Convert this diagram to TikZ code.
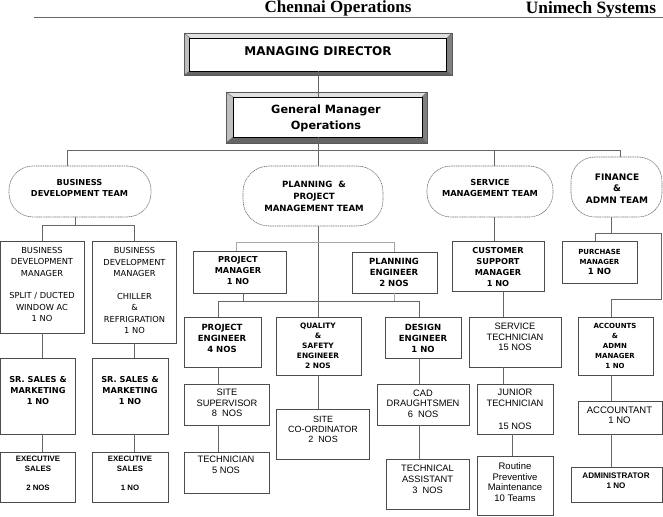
\documentclass[tikz,border=0pt]{standalone}
\usepackage{fontspec}
\setmainfont{DejaVu Sans}
\newfontfamily\arialf{Liberation Sans}
\newfontfamily\timesf{Liberation Serif}
\newcommand\myfs[2]{\fontsize{#1pt}{#2pt}\selectfont}
\tikzset{
  bx/.style={draw=black!70, line width=0.75pt, inner sep=0pt},
  tm/.style={draw=black!55, line width=0.6pt, dash pattern=on 1.2pt off 0.6pt, inner sep=0pt},
  conn/.style={draw=black!60, line width=0.75pt},
  connl/.style={draw=black!35, line width=0.75pt},
  tx/.style={align=center, inner sep=0pt, text=black},
  vb/.style={tx, font=\bfseries\myfs{8.2}{11}},
  vr/.style={tx, font=\myfs{8.3}{11.5}},
  ar/.style={tx, font=\arialf\myfs{9.3}{10.5}},
  arb/.style={tx, font=\arialf\bfseries\myfs{7.8}{9.7}},
  bevtop/.style={fill=black!12},
  bevleft/.style={fill=black!25},
  bevright/.style={fill=black!50},
  bevbot/.style={fill=black!60},
}
\begin{document}
\begin{tikzpicture}[x=1pt,y=-1pt]
\fill[white] (0,0) rectangle (663,516);
\useasboundingbox (0,0) rectangle (663,516);

% header
\node[anchor=base, font=\timesf\bfseries\myfs{17}{20}] (h1) at (338,13) {Chennai Operations};
\node[anchor=base, font=\timesf\bfseries\myfs{17.3}{20}] (h2) at (591,14) {Unimech Systems};
\coordinate (hl1) at (34,17);
\coordinate (hl2) at (663,17);
\draw[black!60, line width=0.9pt] (hl1) -- (hl2);

% Managing director bevel
\fill[bevtop] (184,33) -- (452,33) -- (447,38) -- (190,38) -- cycle;
\fill[bevleft] (184,33) -- (190,38) -- (190,71) -- (184,75) -- cycle;
\fill[bevright] (452,33) -- (452,75) -- (447,71) -- (447,38) -- cycle;
\fill[bevbot] (184,75) -- (452,75) -- (447,71) -- (190,71) -- cycle;
\draw[black!55, line width=0.5pt] (184,33) -- (190,38) (452,33) -- (447,38) (184,75) -- (190,71) (452,75) -- (447,71);
\draw[black!65, line width=0.6pt] (184,33) rectangle (452,75);
\node[draw=black, line width=0.9pt, fill=white, minimum width=257, minimum height=33, inner sep=0pt] (md) at (318,54.5) {};
\node[tx, font=\bfseries\myfs{12}{14}] (mdt) at (318,51.5) {MANAGING DIRECTOR};

% General manager bevel
\fill[bevtop] (226,92) -- (427,92) -- (422,97) -- (233,97) -- cycle;
\fill[bevleft] (226,92) -- (233,97) -- (233,137) -- (226,143) -- cycle;
\fill[bevright] (427,92) -- (427,143) -- (422,137) -- (422,97) -- cycle;
\fill[bevbot] (226,143) -- (427,143) -- (422,137) -- (233,137) -- cycle;
\draw[black!55, line width=0.5pt] (226,92) -- (233,97) (427,92) -- (422,97) (226,143) -- (233,137) (427,143) -- (422,137);
\draw[black!65, line width=0.6pt] (226,92) rectangle (427,143);
\node[draw=black, line width=0.9pt, fill=white, minimum width=189, minimum height=40, inner sep=0pt] (gm) at (327.5,117) {};
\node[tx, font=\bfseries\myfs{11.3}{16}] (gmt) at (326,118) {General Manager\\Operations};

% teams
\node[tm, rounded corners=24pt, minimum width=142, minimum height=51] (bdt) at (80,191.5) {};
\node[tm, rounded corners=26pt, minimum width=140, minimum height=60] (plt) at (313,196) {};
\node[tm, rounded corners=24pt, minimum width=126, minimum height=51] (svt) at (490,191.5) {};
\node[tm, rounded corners=24pt, minimum width=91, minimum height=60] (fit) at (616.5,187) {};
\node[tx, font=\bfseries\myfs{8.2}{11}] (bdtt) at (79.5,188) {BUSINESS\\DEVELOPMENT TEAM};
\node[tx, font=\bfseries\myfs{8.6}{12}] (pltt) at (314,196) {PLANNING\ \ \&\\PROJECT\\MANAGEMENT TEAM};
\node[tx, font=\bfseries\myfs{8.3}{10.5}] (svtt) at (490,188) {SERVICE\\MANAGEMENT TEAM};
\node[tx, font=\bfseries\myfs{9}{11.5}] (fitt) at (617,188.5) {FINANCE\\\&\\ADMN TEAM};

% boxes
\node[bx, minimum width=83.5, minimum height=92] (bdm1) at (42.25,287) {};
\node[bx, minimum width=84, minimum height=102] (bdm2) at (134,292) {};
\node[bx, minimum width=74.5, minimum height=76] (sr1) at (37.75,396) {};
\node[bx, minimum width=76, minimum height=76] (sr2) at (130,396) {};
\node[bx, minimum width=74.5, minimum height=50] (ex1) at (37.75,477) {};
\node[bx, minimum width=76, minimum height=50] (ex2) at (130,477) {};
\node[bx, minimum width=93, minimum height=42] (pm) at (239.5,272) {};
\node[bx, minimum width=85, minimum height=41] (ple) at (394.5,272.5) {};
\node[bx, minimum width=77, minimum height=50] (pe) at (222.5,342) {};
\node[bx, minimum width=85, minimum height=58] (qs) at (318.5,346) {};
\node[bx, minimum width=76, minimum height=41] (de) at (423,337.5) {};
\node[bx, minimum width=85, minimum height=41] (ss) at (226.5,404.5) {};
\node[bx, minimum width=85, minimum height=41] (tc) at (226.5,472.5) {};
\node[bx, minimum width=93, minimum height=50] (sc) at (322.5,434) {};
\node[bx, minimum width=92, minimum height=41] (cad) at (423,404.5) {};
\node[bx, minimum width=83, minimum height=50] (ta) at (427.5,484) {};
\node[bx, minimum width=92, minimum height=50] (csm) at (498,266) {};
\node[bx, minimum width=92, minimum height=50] (st) at (515,342) {};
\node[bx, minimum width=76, minimum height=50] (jt) at (515,409) {};
\node[bx, minimum width=76, minimum height=59] (rt) at (515,485.5) {};
\node[bx, minimum width=75, minimum height=42] (pu) at (599.5,262) {};
\node[bx, minimum width=75, minimum height=58] (ac) at (615.5,346) {};
\node[bx, minimum width=84, minimum height=33] (acc) at (620,417.5) {};
\node[bx, minimum width=91, minimum height=35] (ad) at (616.5,484.5) {};

% texts
\node[vr] (bdm1t) at (42,284.5) {BUSINESS\\DEVELOPMENT\\MANAGER\\[11pt]SPLIT / DUCTED\\WINDOW AC\\1 NO};
\node[vr] (bdm2t) at (134.5,290.5) {BUSINESS\\DEVELOPMENT\\MANAGER\\[11pt]CHILLER\\\&\\REFRIGRATION\\1 NO};
\node[vb] (sr1t) at (38,391) {SR. SALES \&\\MARKETING\\1 NO};
\node[vb] (sr2t) at (130,391) {SR. SALES \&\\MARKETING\\1 NO};
\node[arb] (ex1t) at (38,473.5) {EXECUTIVE\\SALES\\[9.7pt]2 NOS};
\node[arb] (ex2t) at (130,473.5) {EXECUTIVE\\SALES\\[9.7pt]1 NO};
\node[vb] (pmt) at (238,271) {PROJECT\\MANAGER\\1 NO};
\node[vb, font=\bfseries\myfs{8.5}{11}] (plet) at (394,272) {PLANNING\\ENGINEER\\2 NOS};
\node[vb, font=\bfseries\myfs{8.5}{11}] (pet) at (222,338) {PROJECT\\ENGINEER\\4 NOS};
\node[vb, font=\bfseries\myfs{7.4}{10}] (qst) at (318,346) {QUALITY\\\&\\SAFETY\\ENGINEER\\2 NOS};
\node[vb, font=\bfseries\myfs{8.5}{11}] (det) at (423,338) {DESIGN\\ENGINEER\\1 NO};
\node[vb] (csmt) at (498,267.5) {CUSTOMER\\SUPPORT\\MANAGER\\1 NO};
\node[ar] (stt) at (515,337) {SERVICE\\TECHNICIAN\\15 NOS};
\node[vb, font=\bfseries\myfs{7}{10}] (put) at (599.5,261.5) {PURCHASE\\MANAGER\\{\myfs{8.5}{11}1 NO}};
\node[vb, font=\bfseries\myfs{7}{10}] (act) at (615,346) {ACCOUNTS\\\&\\ADMN\\MANAGER\\1 NO};
\node[ar] (sst) at (227,403) {SITE\\SUPERVISOR\\8\ \ NOS};
\node[ar, font=\arialf\myfs{9.3}{11}] (tct) at (226,464.5) {TECHNICIAN\\5 NOS};
\node[ar, font=\arialf\myfs{9}{10}] (sct) at (323,429) {SITE\\CO-ORDINATOR\\2\ \ NOS};
\node[ar] (cadt) at (423,403.5) {CAD\\DRAUGHTSMEN\\6\ \ NOS};
\node[ar, font=\arialf\myfs{9.3}{11}] (tat) at (427.5,479) {TECHNICAL\\ASSISTANT\\3\ \ NOS};
\node[ar, font=\arialf\myfs{9.3}{11.3}] (jtt) at (515,409) {JUNIOR\\TECHNICIAN\\[11pt]15 NOS};
\node[ar, font=\arialf\myfs{9.5}{10.7}] (rtt) at (515,482) {Routine\\Preventive\\Maintenance\\10 Teams};
\node[ar, font=\arialf\myfs{9.5}{10}] (acct) at (619.5,415) {ACCOUNTANT\\1 NO};
\node[arb, font=\arialf\bfseries\myfs{8.1}{10}] (adt) at (616,481) {ADMINISTRATOR\\1 NO};

% connectors: top
\coordinate (bus) at (0,150);
\coordinate (b1) at (67,150);
\coordinate (b3) at (494,150);
\coordinate (b4) at (620,150);
\draw[conn] (md.south) -- (md.south |- gm.north);
\draw[conn] (md.south |- gm.south) -- (md.south |- bus);
\draw[conn] (b1) -- (b4);
\draw[conn] (b1) -- (b1 |- bdt.north);
\draw[conn] (md.south |- bus) -- (md.south |- plt.north);
\draw[conn] (b3) -- (b3 |- svt.north);
\draw[conn] (b4) -- (b4 |- fit.north);

% business development
\coordinate (bdj) at (75,225);
\coordinate (bdl) at (42,225);
\coordinate (bdr) at (134,225);
\draw[conn] (bdj |- bdt.south) -- (bdj);
\draw[conn] (bdl) -- (bdr);
\draw[conn] (bdl) -- (bdl |- bdm1.north);
\draw[conn] (bdr) -- (bdr |- bdm2.north);
\draw[conn] (bdl |- bdm1.south) -- (bdl |- sr1.north);
\draw[conn] (bdr |- bdm2.south) -- (bdr |- sr2.north);
\draw[conn] (bdl |- sr1.south) -- (bdl |- ex1.north);
\draw[conn] (bdr |- sr2.south) -- (bdr |- ex2.north);

% planning
\coordinate (pl1) at (236,242);
\coordinate (pl2) at (394,242);
\coordinate (pj1) at (218,301);
\coordinate (pj2) at (419,301);
\coordinate (pmx) at (243,301);
\draw[conn] (md.south |- plt.south) -- (md.south |- qs.north);
\draw[connl] (pl1) -- (pl2);
\draw[connl] (pl1) -- (pl1 |- pm.north);
\draw[connl] (pl2) -- (pl2 |- ple.north);
\draw[conn] (pmx |- pm.south) -- (pmx);
\draw[connl] (pl2 |- ple.south) -- (pl2 |- pj1);
\draw[conn] (pj1) -- (pj2);
\draw[conn] (pj1) -- (pj1 |- pe.north);
\draw[conn] (pj2) -- (pj2 |- de.north);
\draw[conn] (pj1 |- pe.south) -- (pj1 |- ss.north);
\draw[conn] (pj1 |- ss.south) -- (pj1 |- tc.north);
\draw[conn] (md.south |- qs.south) -- (md.south |- sc.north);
\draw[conn] (pj2 |- de.south) -- (pj2 |- cad.north);
\draw[conn] (pj2 |- cad.south) -- (pj2 |- ta.north);

% service
\coordinate (sx) at (503,0);
\coordinate (sx2) at (512,0);
\draw[conn] (b3 |- svt.south) -- (b3 |- csm.north);
\draw[conn] (sx |- csm.south) -- (sx |- st.north);
\draw[conn] (sx |- st.south) -- (sx |- jt.north);
\draw[conn] (sx2 |- jt.south) -- (sx2 |- rt.north);

% finance
\coordinate (f1) at (611,233);
\coordinate (f2) at (595,233);
\coordinate (f3) at (661,233);
\coordinate (f4) at (661,299);
\coordinate (f5) at (611,299);
\draw[conn] (f1 |- fit.south) -- (f1);
\draw[conn] (f2) -- (f3);
\draw[conn] (f2) -- (f2 |- pu.north);
\draw[conn] (f3) -- (f4) -- (f5) -- (f5 |- ac.north);
\draw[conn] (f5 |- ac.south) -- (f5 |- acc.north);
\draw[conn] (f5 |- acc.south) -- (f5 |- ad.north);
\end{tikzpicture}
\end{document}
